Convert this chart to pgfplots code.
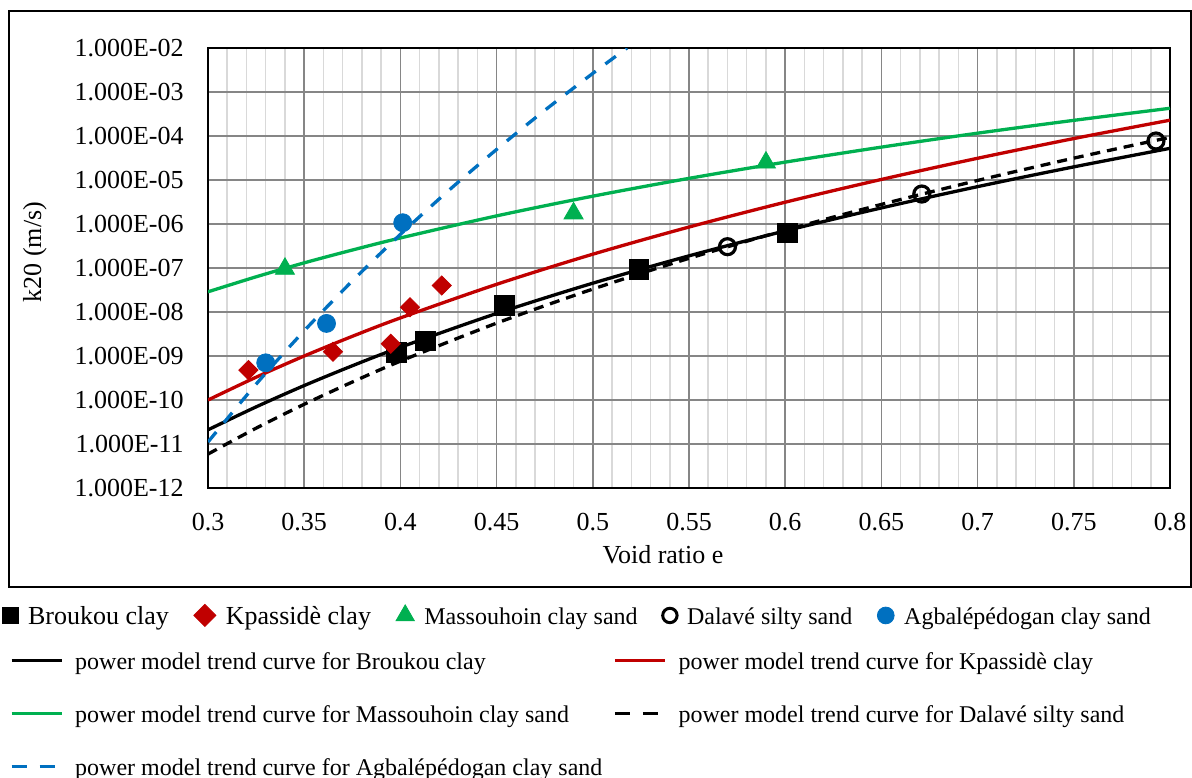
\documentclass[border=0pt]{standalone}
\usepackage{fontspec}
\setmainfont{Liberation Serif}
\usepackage{pgfplots}
\pgfplotsset{compat=1.18}
\definecolor{xred}{RGB}{192,0,0}
\definecolor{xgreen}{RGB}{0,176,80}
\definecolor{xblue}{RGB}{0,112,192}
\definecolor{majgrid}{RGB}{134,134,134}
\definecolor{mingrid}{RGB}{217,217,217}
\begin{document}
\begin{tikzpicture}
\useasboundingbox (0bp,0bp) rectangle (596bp,-389bp);
\draw[line width=0.9bp] (4.5bp,-5.5bp) rectangle (595.5bp,-293.4bp);
\begin{axis}[
  at={(104bp,-244bp)}, anchor=south west,
  scale only axis, width=481bp, height=220bp,
  xmin=0.3, xmax=0.8, ymode=log, ymin=1e-12, ymax=1e-2,
  xtick={0.3,0.35,0.4,0.45,0.5,0.55,0.6,0.65,0.7,0.75,0.8},
  xticklabels={0.3,0.35,0.4,0.45,0.5,0.55,0.6,0.65,0.7,0.75,0.8},
  minor x tick num=4,
  ytick={1e-12,1e-11,1e-10,1e-9,1e-8,1e-7,1e-6,1e-5,1e-4,1e-3,1e-2},
  yticklabels={1.000E-12,1.000E-11,1.000E-10,1.000E-09,1.000E-08,1.000E-07,1.000E-06,1.000E-05,1.000E-04,1.000E-03,1.000E-02},
  xmajorgrids=true, xminorgrids=true, ymajorgrids=true, yminorgrids=false,
  major grid style={draw=majgrid, line width=0.75bp},
  minor grid style={draw=mingrid, line width=0.75bp},
  major tick length=0pt, minor tick length=0pt,
  axis line style={line width=1bp},
  ticklabel style={font=\fontsize{13bp}{15bp}\selectfont},
  yticklabel style={anchor=east, inner sep=0pt, xshift=-12bp},
  xticklabel style={anchor=north, inner sep=0pt, yshift=-12.5bp},
  xlabel={Void ratio e}, ylabel={k20 (m/s)},
  label style={font=\fontsize{13bp}{15bp}\selectfont},
  xlabel style={at={(axis description cs:0.473,-0.1511)}, anchor=center, inner sep=0pt},
  ylabel style={at={(axis description cs:-0.1800,0.5364)}, anchor=center, inner sep=0pt},
]
% data points
\addplot[only marks, mark=square*, mark size=4.9bp, black] coordinates {
 (0.398,1.2e-9) (0.413,2.2e-9) (0.454,1.4e-8) (0.524,9.2e-8) (0.601,6.3e-7)};
\addplot[only marks, mark=square*, mark size=3.4bp, mark options={rotate=45}, xred] coordinates {
 (0.321,4.8e-10) (0.365,1.25e-9) (0.395,1.9e-9) (0.405,1.28e-8) (0.4215,4.0e-8)};
\addplot[only marks, mark=triangle*, mark size=5.5bp, mark options={yshift=-1.3bp}, xgreen] coordinates {
 (0.340,1.1e-7) (0.490,2.0e-6) (0.590,2.85e-5)};
\addplot[only marks, mark=o, mark size=4bp, line width=1.6bp, black] coordinates {
 (0.570,3.05e-7) (0.671,4.8e-6) (0.7927,7.7e-5)};
\addplot[only marks, mark=*, mark size=4.5bp, xblue] coordinates {
 (0.330,7.0e-10) (0.3616,5.5e-9) (0.4012,1.07e-6)};
% power trend curves
\addplot[black, line width=1.65bp, smooth, mark=none] coordinates {
 (0.30,2.10e-11) (0.325,6.98e-11) (0.35,2.13e-10) (0.375,6.0e-10) (0.40,1.58e-9) (0.45,9.27e-9) (0.50,4.52e-8) (0.55,1.89e-7) (0.60,6.98e-7) (0.65,2.32e-6) (0.70,7.07e-6) (0.75,1.99e-5) (0.80,5.25e-5)};
\addplot[xred, line width=1.65bp, smooth, mark=none] coordinates {
 (0.30,1.0e-10) (0.325,3.30e-10) (0.35,1.0e-9) (0.375,2.80e-9) (0.40,7.34e-9) (0.45,4.26e-8) (0.50,2.06e-7) (0.55,8.53e-7) (0.60,3.13e-6) (0.65,1.03e-5) (0.70,3.12e-5) (0.75,8.75e-5) (0.80,2.29e-4)};
\addplot[xgreen, line width=1.65bp, smooth, mark=none] coordinates {
 (0.30,2.88e-8) (0.325,6.31e-8) (0.35,1.31e-7) (0.375,2.56e-7) (0.40,4.82e-7) (0.45,1.53e-6) (0.50,4.29e-6) (0.55,1.09e-5) (0.60,2.55e-5) (0.65,5.59e-5) (0.70,1.16e-4) (0.75,2.27e-4) (0.80,4.27e-4)};
\addplot[black, line width=1.65bp, smooth, mark=none, dash pattern=on 5bp off 3.5bp] coordinates {
 (0.30,5.90e-12) (0.325,2.29e-11) (0.35,8.0e-11) (0.375,2.56e-10) (0.40,7.64e-10) (0.45,5.58e-9) (0.50,3.32e-8) (0.55,1.66e-7) (0.60,7.22e-7) (0.65,2.79e-6) (0.70,9.77e-6) (0.75,3.14e-5) (0.80,9.33e-5)};
\addplot[xblue, line width=1.65bp, smooth, mark=none, dash pattern=on 6.5bp off 6bp] coordinates {
 (0.30,1.11e-11) (0.325,2.29e-10) (0.35,3.75e-9) (0.375,5.07e-8) (0.40,5.81e-7) (0.425,5.73e-6) (0.45,4.95e-5) (0.475,3.82e-4) (0.50,2.65e-3) (0.5178,1.0e-2)};
\end{axis}
% legend: markers
\begin{axis}[
  at={(104bp,-244bp)}, anchor=south west,
  scale only axis, width=481bp, height=220bp,
  hide axis, xmin=0, xmax=1, ymin=0, ymax=1,
  legend columns=-1, legend cell align=left,
  legend image code/.code={\draw[only marks,#1] plot coordinates {(0bp,0.9bp)};},
  legend style={at={(-0.2141,-0.2646)}, anchor=north west, draw=none, fill=none,
    inner sep=0pt, outer sep=0pt,
    nodes={inner sep=0pt},
    /tikz/every odd column/.append style={column sep=5bp},
    /tikz/every even column/.append style={column sep=12.5bp},
    font=\fontsize{12bp}{14bp}\selectfont},
]
\addlegendimage{mark=square*, mark size=4bp, black}
\addlegendentry{\fontsize{13bp}{15bp}\selectfont Broukou clay}
\addlegendimage{mark=square*, mark size=3.9bp, mark options={rotate=45}, xred}
\addlegendentry{\fontsize{13bp}{15bp}\selectfont Kpassidè clay}
\addlegendimage{mark=triangle*, mark size=5.3bp, xgreen}
\addlegendentry{Massouhoin clay sand}
\addlegendimage{mark=o, mark size=3.6bp, line width=1.5bp, black}
\addlegendentry{Dalavé silty sand}
\addlegendimage{mark=*, mark size=4.2bp, xblue}
\addlegendentry{Agbalépédogan clay sand}
\end{axis}
% legend: trend curves
\begin{axis}[
  at={(104bp,-244bp)}, anchor=south west,
  scale only axis, width=481bp, height=220bp,
  hide axis, xmin=0, xmax=1, ymin=0, ymax=1,
  legend columns=2, legend cell align=left,
  legend image code/.code={\draw[#1] (0bp,1.1bp) -- (25bp,1.1bp);},
  legend style={at={(-0.2058,-0.3743)}, anchor=north west, draw=none, fill=none,
    inner sep=0pt, outer sep=0pt, row sep=16.5bp,
    nodes={inner sep=0pt},
    /tikz/every odd column/.append style={column sep=6bp},
    /tikz/every even column/.append style={column sep=5.5bp},
    font=\fontsize{12bp}{14bp}\selectfont},
]
\addlegendimage{black, line width=1.6bp}
\addlegendentry{power model trend curve for Broukou clay}
\addlegendimage{xred, line width=1.6bp}
\addlegendentry{power model trend curve for Kpassidè clay}
\addlegendimage{xgreen, line width=1.6bp}
\addlegendentry{power model trend curve for Massouhoin clay sand}
\addlegendimage{black, line width=1.6bp, dash pattern=on 7.5bp off 6.5bp}
\addlegendentry{power model trend curve for Dalavé silty sand}
\addlegendimage{xblue, line width=1.6bp, dash pattern=on 7.5bp off 6.5bp}
\addlegendentry{power model trend curve for Agbalépédogan clay sand}
\end{axis}
\end{tikzpicture}
\end{document}
